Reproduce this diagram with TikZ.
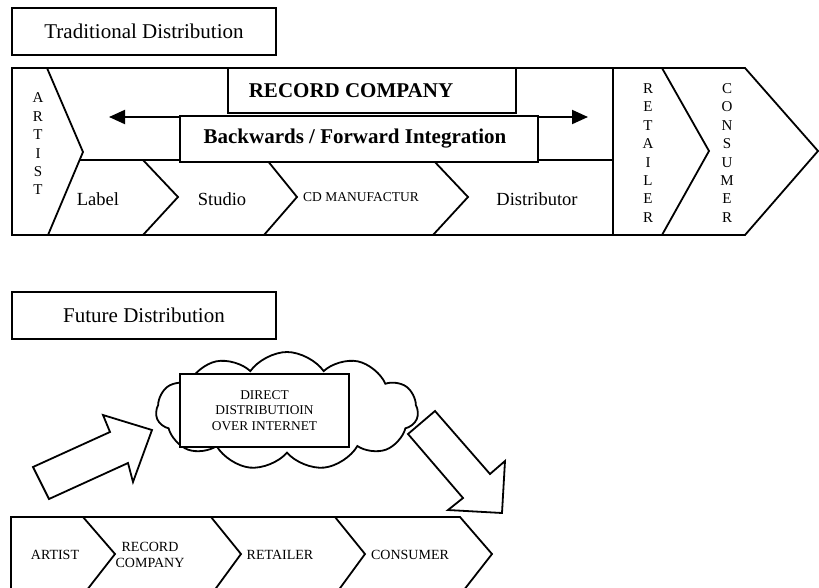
\documentclass[tikz,border=0pt]{standalone}
\usepackage{fontspec}
\setmainfont{Liberation Serif}
\usetikzlibrary{arrows.meta,shapes.symbols}
\tikzset{
  ln/.style={line width=1.8pt, line join=miter},
  tbox/.style={draw, line width=1.8pt, fill=white, inner sep=0pt},
  lbl/.style={inner sep=0pt, align=center},
  blockarrow/.style={draw, line width=1.8pt, fill=white, line join=miter},
}
\begin{document}
\begin{tikzpicture}[x=1pt,y=-1pt]
\useasboundingbox (0,0) rectangle (819,587);
\clip (0,0) rectangle (819,587);
% ---------- Traditional ----------
\node[tbox, minimum width=264pt, minimum height=47pt, font=\fontsize{21}{25}\selectfont] (trad) at (144,31.5) {Traditional Distribution};
% frame
\draw[ln] (12,68) -- (745,68) -- (818,151) -- (745,235) -- (12,235) -- cycle;
\draw[ln] (47,68) -- (83,152) -- (48,235);
\draw[ln] (80,160) -- (613,160);
\draw[ln] (613,68) -- (613,235);
\draw[ln] (662,68) -- (709,151) -- (662,235);
\draw[ln] (143,160) -- (178,197) -- (143,235);
\draw[ln] (267,160) -- (297,197) -- (264,235);
\draw[ln] (433,160) -- (468,197) -- (433,235);
% double arrow
\coordinate (al) at (109,117);
\coordinate (ar) at (588,117);
\draw[line width=2pt, {Triangle[length=16pt,width=14pt]}-{Triangle[length=16pt,width=14pt]}] (al) -- (ar);
% boxes
\node[tbox, minimum width=288pt, minimum height=45pt] (rcbox) at (372,90.5) {};
\node[lbl, font=\fontsize{21}{25}\selectfont\bfseries] (rctext) at (351,91) {RECORD COMPANY};
\node[tbox, minimum width=358pt, minimum height=46pt, font=\fontsize{21}{25}\selectfont\bfseries] (bfi) at (359,139) {\hspace*{-8pt}Backwards / Forward Integration};
% labels
\node[lbl, font=\fontsize{18.5}{22}\selectfont] (label) at (98,199) {Label};
\node[lbl, font=\fontsize{18.5}{22}\selectfont] (studio) at (222,199) {Studio};
\node[lbl, font=\fontsize{13.5}{16}\selectfont] (cdm) at (361,197) {CD MANUFACTUR};
\node[lbl, font=\fontsize{18.5}{22}\selectfont] (distr) at (537,199) {Distributor};
\node[lbl, font=\fontsize{15}{18.4}\selectfont] (artistv) at (38,144) {A\\R\\T\\I\\S\\T};
\node[lbl, font=\fontsize{15}{18.4}\selectfont] (retailv) at (648,153) {R\\E\\T\\A\\I\\L\\E\\R};
\node[lbl, font=\fontsize{15}{18.4}\selectfont] (consv) at (727,153) {C\\O\\N\\S\\U\\M\\E\\R};
% ---------- Future ----------
\node[tbox, minimum width=264pt, minimum height=47pt, font=\fontsize{21}{25}\selectfont] (fut) at (144,315.5) {Future Distribution};
\node[cloud, draw, line width=1.8pt, cloud puffs=11, cloud puff arc=110, cloud ignores aspect, minimum width=262pt, minimum height=118pt, inner sep=0pt] (cloud) at (287,411) {};
\node[tbox, minimum width=169pt, minimum height=73pt, align=center, font=\fontsize{13.4}{15.4}\selectfont] (direct) at (264.5,410.5) {DIRECT\\DISTRIBUTIOIN\\OVER INTERNET};
% block arrows
\draw[blockarrow] (33,467) -- (110,432) -- (103,415) -- (152,430) -- (133,482) -- (128,463) -- (49,499) -- cycle;
\draw[blockarrow] (435,411) -- (490,474) -- (505,461) -- (502,513) -- (448,510) -- (463,498) -- (408,434) -- cycle;
% bottom chain
\draw[ln] (11,595) -- (11,517) -- (460,517) -- (492,554) -- (460,595);
\draw[ln] (83,517) -- (115,554) -- (83,595);
\draw[ln] (211,517) -- (241,554) -- (211,595);
\draw[ln] (335,517) -- (365,554) -- (335,595);
\node[lbl, font=\fontsize{14}{16.7}\selectfont] (artist2) at (55,555) {ARTIST};
\node[lbl, font=\fontsize{14}{16.7}\selectfont] (rc2) at (150,555) {RECORD\\COMPANY};
\node[lbl, font=\fontsize{14}{16.7}\selectfont] (ret2) at (280,555) {RETAILER};
\node[lbl, font=\fontsize{14}{16.7}\selectfont] (con2) at (410,555) {CONSUMER};
\end{tikzpicture}
\end{document}
